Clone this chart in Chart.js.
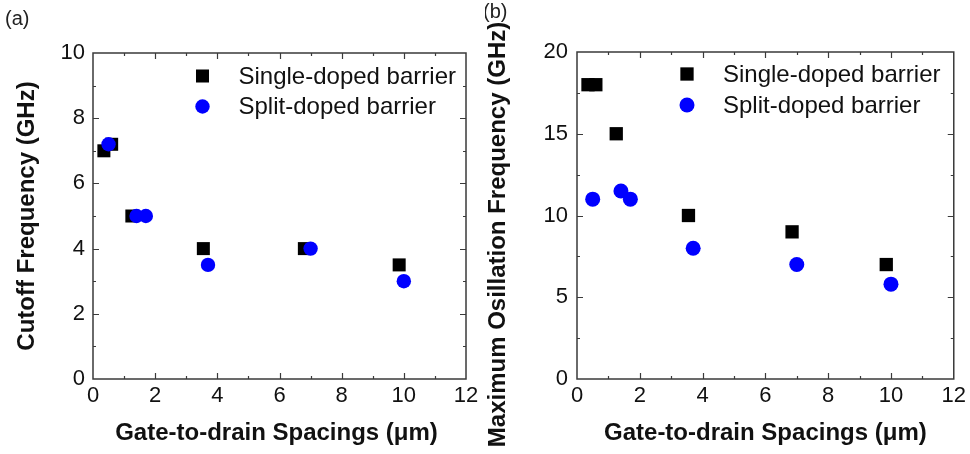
<!DOCTYPE html>
<html>
<head>
<meta charset="utf-8">
<script src="https://cdn.jsdelivr.net/npm/chart.js@4/dist/chart.umd.min.js"></script>
<style>
  html, body { margin: 0; padding: 0; background: #ffffff; }
  #wrap { position: relative; width: 970px; height: 454px; overflow: hidden; }
  .panel { position: absolute; top: 0; width: 485px; height: 454px; }
</style>
</head>
<body>
<div id="wrap">
  <div class="panel" style="left:0"><canvas id="cA" width="485" height="454"></canvas></div>
  <div class="panel" style="left:485px"><canvas id="cB" width="485" height="454"></canvas></div>
</div>
<script>
// Gate-to-drain spacing (µm) and measured frequencies (GHz)
const seriesNames = ['Single-doped barrier', 'Split-doped barrier'];

// (a) cutoff frequency
const cutoffSingleX = [0.35, 0.6, 1.25, 3.55, 6.8, 9.85];
const cutoffSingleY = [7.0, 7.2, 5.0, 4.0, 4.0, 3.5];
const cutoffSplitX  = [0.5, 1.4, 1.7, 3.7, 7.0, 10.0];
const cutoffSplitY  = [7.2, 5.0, 5.0, 3.5, 4.0, 3.0];

// (b) maximum oscillation frequency
const fmaxSingleX = [0.35, 0.6, 1.25, 3.55, 6.85, 9.85];
const fmaxSingleY = [18, 18, 15, 10, 9, 7];
const fmaxSplitX  = [0.5, 1.4, 1.7, 3.7, 7.0, 10.0];
const fmaxSplitY  = [11, 11.5, 11, 8, 7, 5.8];

const FONT = '"Liberation Sans", Arial, Helvetica, sans-serif';

function toPoints(xs, ys) {
  return xs.map((x, i) => ({ x: x, y: ys[i] }));
}

// Frame, inward ticks, in-plot legend, axis titles and panel tag
const panelDecor = {
  id: 'panelDecor',
  beforeDatasetsDraw(chart, args, o) {
    const { ctx, chartArea: a, scales: { x, y } } = chart;
    ctx.save();
    ctx.strokeStyle = o.frameColor;
    ctx.lineWidth = o.frameWidth;
    ctx.strokeRect(a.left, a.top, a.right - a.left, a.bottom - a.top);
    ctx.beginPath();
    const isMajor = (v, step) => Math.abs(v / step - Math.round(v / step)) < 1e-6;
    for (let v = x.min + o.xMinor; v < x.max - 1e-9; v += o.xMinor) {
      const px = Math.round(x.getPixelForValue(v)) + 0.5;
      const len = isMajor(v, o.xMajor) ? o.majorLen : o.minorLen;
      ctx.moveTo(px, a.bottom); ctx.lineTo(px, a.bottom - len);
      ctx.moveTo(px, a.top); ctx.lineTo(px, a.top + len);
    }
    for (let v = y.min + o.yMinor; v < y.max - 1e-9; v += o.yMinor) {
      const py = Math.round(y.getPixelForValue(v)) + 0.5;
      const len = isMajor(v, o.yMajor) ? o.majorLen : o.minorLen;
      ctx.moveTo(a.left, py); ctx.lineTo(a.left + len, py);
      ctx.moveTo(a.right, py); ctx.lineTo(a.right - len, py);
    }
    ctx.lineWidth = 1.2;
    ctx.stroke();
    ctx.restore();
  },
  afterDraw(chart, args, o) {
    const { ctx, chartArea: a } = chart;
    ctx.save();
    // legend inside the plot
    ctx.font = o.legendFont;
    ctx.textAlign = 'left';
    ctx.textBaseline = 'middle';
    chart.data.datasets.forEach((ds, i) => {
      const mx = a.left + o.legendX;
      const my = a.top + o.legendRows[i];
      ctx.fillStyle = ds.backgroundColor;
      if (ds.pointStyle === 'rect') {
        const half = ds.pointRadius * Math.SQRT1_2;
        ctx.fillRect(mx - half, my - half, half * 2, half * 2);
      } else {
        ctx.beginPath();
        ctx.arc(mx, my, ds.pointRadius, 0, Math.PI * 2);
        ctx.fill();
      }
      ctx.fillStyle = '#111';
      ctx.fillText(ds.label, mx + o.legendGap, my + 1);
    });
    // axis titles
    ctx.fillStyle = '#111';
    ctx.font = o.titleFont;
    ctx.textAlign = 'center';
    ctx.textBaseline = 'middle';
    ctx.fillText(o.xTitle, (a.left + a.right) / 2 + o.xTitleShift, o.xTitleY);
    ctx.save();
    ctx.translate(o.yTitleX, (a.top + a.bottom) / 2 + o.yTitleShift);
    ctx.rotate(-Math.PI / 2);
    ctx.fillText(o.yTitle, 0, 0);
    ctx.restore();
    // panel tag
    ctx.font = o.tagFont;
    ctx.textAlign = 'left';
    ctx.fillStyle = '#222';
    ctx.fillText(o.tag, o.tagX, o.tagY);
    ctx.restore();
  }
};

function makePanel(canvasId, cfg) {
  const datasets = [
    {
      label: seriesNames[0],
      data: toPoints(cfg.singleX, cfg.singleY),
      pointStyle: 'rect',
      pointRadius: cfg.squareRadius,
      pointHoverRadius: cfg.squareRadius,
      backgroundColor: '#000000',
      borderColor: '#000000',
      borderWidth: 0,
      order: 1
    },
    {
      label: seriesNames[1],
      data: toPoints(cfg.splitX, cfg.splitY),
      pointStyle: 'circle',
      pointRadius: cfg.circleRadius,
      pointHoverRadius: cfg.circleRadius,
      backgroundColor: '#0000ff',
      borderColor: '#0000ff',
      borderWidth: 0,
      order: 0
    }
  ];
  return new Chart(document.getElementById(canvasId), {
    type: 'scatter',
    data: { datasets: datasets },
    plugins: [panelDecor],
    options: {
      responsive: false,
      animation: false,
      clip: false,
      layout: { padding: cfg.padding },
      scales: {
        x: {
          type: 'linear',
          min: 0, max: 12,
          ticks: { stepSize: 2, color: '#111', padding: 4, font: { family: FONT, size: 22 } },
          grid: { display: false, drawTicks: false },
          border: { display: false },
          afterFit(s) { s.height = cfg.xAxisHeight; }
        },
        y: {
          type: 'linear',
          min: 0, max: cfg.yMax,
          ticks: { stepSize: cfg.yStep, color: '#111', padding: cfg.yTickPad, font: { family: FONT, size: 22 } },
          grid: { display: false, drawTicks: false },
          border: { display: false },
          afterFit(s) { s.width = cfg.yAxisWidth; }
        }
      },
      plugins: {
        legend: { display: false },
        tooltip: { enabled: false },
        panelDecor: {
          frameColor: '#3a3a3a',
          frameWidth: 1.5,
          majorLen: 6, minorLen: 3,
          xMajor: 2, xMinor: 1,
          yMajor: cfg.yStep, yMinor: cfg.yStep / 2,
          legendFont: '24px ' + FONT,
          legendX: cfg.legendX,
          legendRows: cfg.legendRows,
          legendGap: 36,
          titleFont: 'bold 24px ' + FONT,
          xTitle: 'Gate-to-drain Spacings (\u03bcm)',
          xTitleY: 433,
          xTitleShift: cfg.xTitleShift,
          yTitle: cfg.yTitle,
          yTitleX: cfg.yTitleX,
          yTitleShift: cfg.yTitleShift,
          tag: cfg.tag,
          tagFont: '20px ' + FONT,
          tagX: cfg.tagX,
          tagY: cfg.tagY
        }
      }
    }
  });
}

makePanel('cA', {
  singleX: cutoffSingleX, singleY: cutoffSingleY,
  splitX: cutoffSplitX, splitY: cutoffSplitY,
  squareRadius: 9.2, circleRadius: 7.2,
  padding: { left: 0, top: 53, right: 19, bottom: 0 },
  xAxisHeight: 75, yAxisWidth: 93, yTickPad: 8,
  yMax: 10, yStep: 2,
  legendX: 109.5, legendRows: [23, 53.5],
  xTitleShift: -3,
  yTitle: 'Cutoff Frequency (GHz)', yTitleX: 27, yTitleShift: 0,
  tag: '(a)', tagX: 5, tagY: 19
});

makePanel('cB', {
  singleX: fmaxSingleX, singleY: fmaxSingleY,
  splitX: fmaxSplitX, splitY: fmaxSplitY,
  squareRadius: 9.4, circleRadius: 7.5,
  padding: { left: 0, top: 52, right: 16, bottom: 0 },
  xAxisHeight: 75, yAxisWidth: 92, yTickPad: 9,
  yMax: 20, yStep: 5,
  legendX: 110, legendRows: [22, 53],
  xTitleShift: 0,
  yTitle: 'Maximum Osillation Frequency (GHz)', yTitleX: 13, yTitleShift: 19,
  tag: '(b)', tagX: -2, tagY: 12
});
</script>
</body>
</html>
